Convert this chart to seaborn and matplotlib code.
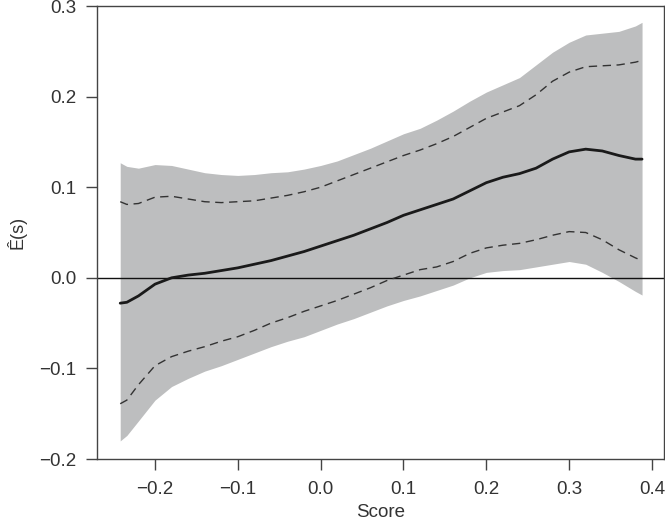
import numpy as np
import pandas as pd
import matplotlib
matplotlib.use("Agg")
import matplotlib.pyplot as plt
import seaborn as sns

score = [-0.242, -0.234, -0.22, -0.20, -0.18, -0.16, -0.14, -0.12, -0.10, -0.08,
         -0.06, -0.04, -0.02, 0.0, 0.02, 0.04, 0.06, 0.08, 0.10, 0.12,
         0.14, 0.16, 0.18, 0.20, 0.22, 0.24, 0.26, 0.28, 0.30, 0.32,
         0.34, 0.36, 0.38, 0.388]

estimate = [-0.028, -0.027, -0.020, -0.007, 0.000, 0.003, 0.005, 0.008, 0.011, 0.015,
            0.019, 0.024, 0.029, 0.035, 0.041, 0.047, 0.054, 0.061, 0.069, 0.075,
            0.081, 0.087, 0.096, 0.105, 0.111, 0.115, 0.121, 0.131, 0.139, 0.142,
            0.140, 0.135, 0.131, 0.131]

upper_dash = [0.084, 0.081, 0.082, 0.089, 0.090, 0.087, 0.084, 0.083, 0.084, 0.085,
              0.088, 0.091, 0.095, 0.100, 0.107, 0.114, 0.121, 0.128, 0.135, 0.141,
              0.148, 0.156, 0.166, 0.176, 0.183, 0.190, 0.202, 0.217, 0.227, 0.233,
              0.234, 0.235, 0.238, 0.240]

lower_dash = [-0.139, -0.135, -0.118, -0.097, -0.087, -0.081, -0.076, -0.070, -0.065, -0.058,
              -0.050, -0.044, -0.037, -0.031, -0.025, -0.018, -0.011, -0.003, 0.003, 0.009,
              0.012, 0.018, 0.027, 0.033, 0.036, 0.038, 0.042, 0.047, 0.051, 0.050,
              0.042, 0.031, 0.022, 0.019]

band_upper = [0.127, 0.123, 0.121, 0.125, 0.124, 0.120, 0.116, 0.114, 0.113, 0.114,
              0.116, 0.117, 0.120, 0.124, 0.129, 0.136, 0.143, 0.151, 0.159, 0.165,
              0.174, 0.184, 0.195, 0.205, 0.213, 0.221, 0.235, 0.249, 0.260, 0.268,
              0.270, 0.272, 0.278, 0.282]

band_lower = [-0.180, -0.174, -0.158, -0.135, -0.120, -0.111, -0.103, -0.097, -0.090, -0.083,
              -0.076, -0.070, -0.065, -0.058, -0.051, -0.045, -0.038, -0.031, -0.025, -0.020,
              -0.014, -0.008, 0.000, 0.006, 0.008, 0.009, 0.012, 0.015, 0.018, 0.015,
              0.006, -0.004, -0.015, -0.019]

x_ticks = [-0.2, -0.1, 0.0, 0.1, 0.2, 0.3, 0.4]
y_ticks = [-0.2, -0.1, 0.0, 0.1, 0.2, 0.3]

df = pd.DataFrame({"Score": score, "est": estimate, "up": upper_dash, "lo": lower_dash,
                   "bu": band_upper, "bl": band_lower})

sns.set_style("ticks")
plt.rcParams["font.family"] = ["Liberation Sans", "DejaVu Sans"]

fig = plt.figure(figsize=(6.65, 5.27), dpi=100)
ax = fig.add_axes([0.1459, 0.129, 0.8526, 0.8596])

ax.fill_between(df["Score"], df["bl"], df["bu"], color="#bdbebf", linewidth=0, zorder=1)
ax.axhline(0, color="#111111", linewidth=1.0, zorder=2)
sns.lineplot(data=df, x="Score", y="up", ax=ax, color="#333333", linewidth=1.0,
             linestyle=(0, (6, 4)), zorder=3)
sns.lineplot(data=df, x="Score", y="lo", ax=ax, color="#333333", linewidth=1.0,
             linestyle=(0, (6, 4)), zorder=3)
sns.lineplot(data=df, x="Score", y="est", ax=ax, color="#1a1a1a", linewidth=2.0, zorder=4)

ax.set_xlim(-0.27, 0.4145)
ax.set_ylim(-0.2, 0.3)
ax.set_xticks(x_ticks)
ax.set_yticks(y_ticks)
ax.set_xticklabels([f"{v:.1f}".replace("-", "\u2212") for v in x_ticks])
ax.set_yticklabels([f"{v:.1f}".replace("-", "\u2212") for v in y_ticks])
ax.tick_params(direction="out", length=8, width=1.0, color="#444444",
               labelsize=13.5, labelcolor="#333333")
ax.tick_params(axis="x", pad=8)
ax.tick_params(axis="y", pad=7)

for s in ax.spines.values():
    s.set_visible(True)
    s.set_color("#444444")
    s.set_linewidth(1.0)

ax.set_xlabel("Score", fontsize=13.5, color="#333333")
ax.xaxis.set_label_coords(0.5, -0.1)
ax.set_ylabel("\u00CA(s)", fontsize=13, color="#333333")
ax.yaxis.set_label_coords(-0.124, 0.5)

fig.savefig("out.png", dpi=100)
